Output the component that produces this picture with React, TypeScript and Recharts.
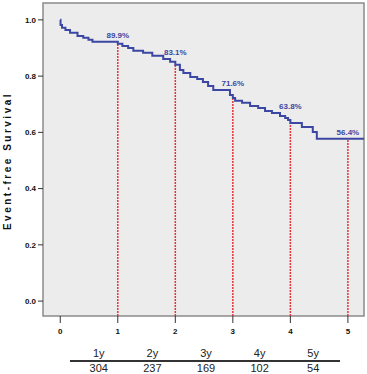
import React from 'react';
import { ComposedChart, Line, XAxis, YAxis, ReferenceArea, ReferenceLine, ReferenceDot } from 'recharts';

// Kaplan-Meier step points
const times = [0, 0.005, 0.03, 0.09, 0.17, 0.3, 0.4, 0.49, 0.56, 1.0, 1.08, 1.18, 1.27, 1.44, 1.6, 1.79, 1.91, 2.0, 2.08, 2.14, 2.26, 2.38, 2.48, 2.57, 2.66, 2.95, 3.0, 3.04, 3.16, 3.3, 3.44, 3.56, 3.68, 3.82, 3.91, 3.96, 4.0, 4.2, 4.39, 4.46, 5.28];
const survival = [1.0, 0.982, 0.972, 0.964, 0.954, 0.943, 0.936, 0.929, 0.922, 0.915, 0.907, 0.9, 0.89, 0.883, 0.872, 0.861, 0.851, 0.84, 0.822, 0.811, 0.797, 0.79, 0.779, 0.765, 0.751, 0.733, 0.722, 0.712, 0.705, 0.694, 0.687, 0.676, 0.669, 0.658, 0.651, 0.644, 0.633, 0.619, 0.601, 0.577, 0.577];

const markYears = [1, 2, 3, 4, 5];
const markLabels = ['89.9%', '83.1%', '71.6%', '63.8%', '56.4%'];

const xTicks = [0, 1, 2, 3, 4, 5];
const yTicks = [0, 0.2, 0.4, 0.6, 0.8, 1.0];

const tableLabels = ['1y', '2y', '3y', '4y', '5y'];
const atRisk = [304, 237, 169, 102, 54];

const X_DOMAIN: [number, number] = [-0.3, 5.28];
const Y_DOMAIN: [number, number] = [-0.053, 1.06];

const BLUE = '#3b47a3';
const RED = '#e3343c';

const data = times.map((t, i) => ({ t, s: survival[i] }));

// value of the step curve at time t
const levelAt = (t: number) => {
  let v = survival[0];
  times.forEach((tt, i) => {
    if (tt <= t) v = survival[i];
  });
  return v;
};

export default function App() {
  return (
    <div style={{ position: 'absolute', left: 0, top: 0, width: 367, height: 374, background: '#fff', fontFamily: '"Liberation Sans", Arial, sans-serif' }}>
      <ComposedChart width={367} height={374} data={data} margin={{ top: 3, right: 3, bottom: 38, left: 0 }}>
        <ReferenceArea
          x1={X_DOMAIN[0]}
          x2={X_DOMAIN[1]}
          y1={Y_DOMAIN[0]}
          y2={Y_DOMAIN[1]}
          fill="#ececec"
          fillOpacity={1}
          stroke="#8a8a8a"
          strokeWidth={1.5}
        />
        <XAxis
          dataKey="t"
          type="number"
          domain={X_DOMAIN}
          ticks={xTicks}
          allowDataOverflow
          axisLine={false}
          tickLine={{ stroke: '#333' }}
          tickSize={7}
          tickMargin={5}
          height={20}
          tick={{ fontSize: 8, fontWeight: 'bold', fill: '#111' }}
        />
        <YAxis
          type="number"
          domain={Y_DOMAIN}
          ticks={yTicks}
          allowDataOverflow
          width={43}
          axisLine={false}
          tickLine={{ stroke: '#333' }}
          tickSize={5}
          tickMargin={2}
          tickFormatter={(v: number) => v.toFixed(1)}
          tick={{ fontSize: 8, fontWeight: 'bold', fill: '#111' }}
        />
        {markYears.map((yr) => (
          <ReferenceLine
            key={'l' + yr}
            segment={[{ x: yr, y: Y_DOMAIN[0] }, { x: yr, y: levelAt(yr) }]}
            stroke={RED}
            strokeWidth={1.5}
            strokeDasharray="2 1"
          />
        ))}
        <Line
          dataKey="s"
          type="stepAfter"
          stroke={BLUE}
          strokeWidth={2}
          dot={false}
          isAnimationActive={false}
        />
        {markYears.map((yr, i) => (
          <ReferenceDot
            key={'d' + yr}
            x={yr}
            y={levelAt(yr - 0.2)}
            r={0}
            fill="none"
            stroke="none"
            label={{ value: markLabels[i], position: 'top', offset: 4, fill: BLUE, fontSize: 8, fontWeight: 'bold' }}
          />
        ))}
      </ComposedChart>

      <div
        style={{
          position: 'absolute',
          left: 7,
          top: 161,
          transform: 'translate(-50%, -50%) rotate(-90deg)',
          whiteSpace: 'nowrap',
          fontSize: 10,
          fontWeight: 'bold',
          letterSpacing: 2.5,
          color: '#111',
        }}
      >
        Event-free Survival
      </div>

      <div style={{ position: 'absolute', left: 72, top: 347, width: 268, display: 'flex', fontSize: 11, color: '#222' }}>
        {tableLabels.map((l) => (
          <div key={l} style={{ flex: 1, textAlign: 'center', lineHeight: '12px' }}>{l}</div>
        ))}
      </div>
      <div style={{ position: 'absolute', left: 70, top: 360, width: 270, height: 1.5, background: '#333' }} />
      <div style={{ position: 'absolute', left: 72, top: 362, width: 268, display: 'flex', fontSize: 11, color: '#222' }}>
        {atRisk.map((n, i) => (
          <div key={i} style={{ flex: 1, textAlign: 'center', lineHeight: '12px' }}>{n}</div>
        ))}
      </div>
    </div>
  );
}
